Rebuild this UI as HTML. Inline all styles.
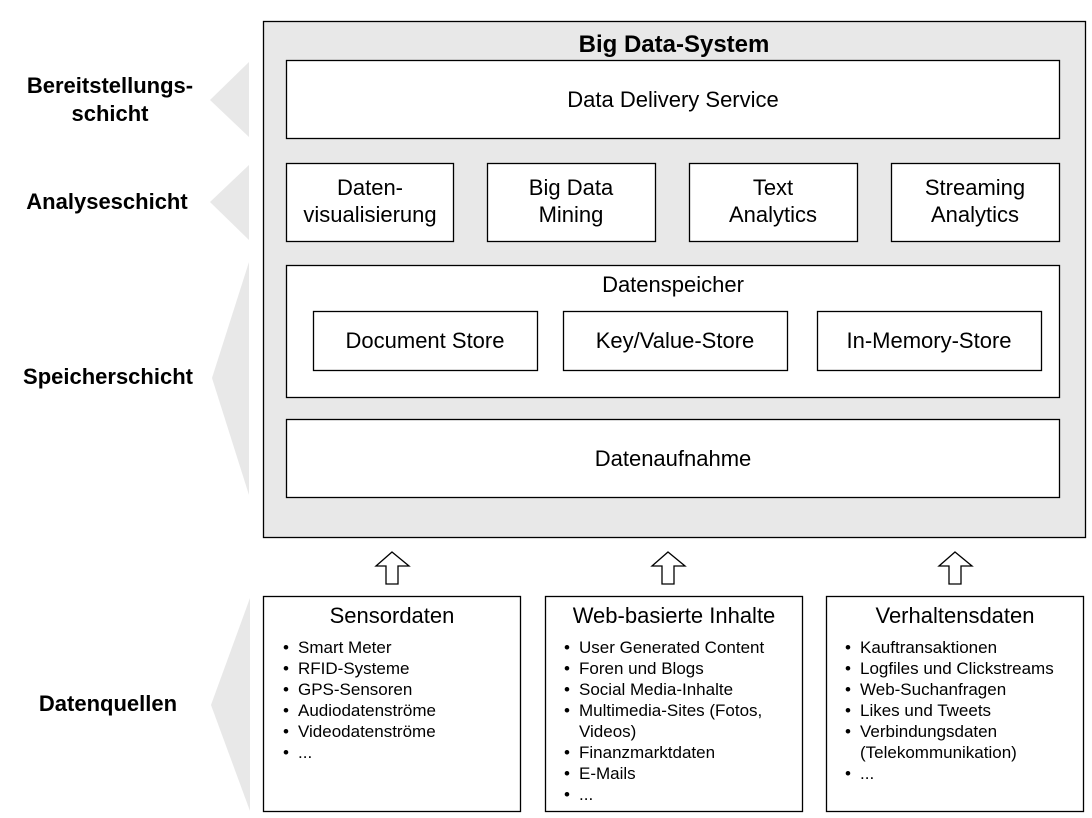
<!DOCTYPE html>
<html><head><meta charset="utf-8"><style>
html,body{margin:0;padding:0;background:#fff;}
svg{display:block;font-family:"Liberation Sans",Arial,sans-serif;}
</style></head><body>
<svg width="1092" height="818" viewBox="0 0 1092 818" xmlns="http://www.w3.org/2000/svg">
<g fill="#e8e8e8">
<polygon points="249,62 249,137 210,100"/>
<polygon points="249,165 249,240 210,202"/>
<polygon points="249,262 249,495 212,378"/>
<polygon points="250,598 250,811 211,705"/>
</g>
<g font-weight="bold" font-size="22" text-anchor="middle" fill="#000">
<text x="110" y="93">Bereitstellungs-</text>
<text x="110" y="121">schicht</text>
<text x="107" y="209">Analyseschicht</text>
<text x="108" y="384">Speicherschicht</text>
<text x="108" y="711">Datenquellen</text>
</g>
<rect x="263.5" y="21.5" width="822" height="516" fill="#e8e8e8" stroke="#000" stroke-width="1.3"/>
<text x="674" y="52" font-weight="bold" font-size="24" text-anchor="middle">Big Data-System</text>
<g fill="#fff" stroke="#000" stroke-width="1.3">
<rect x="286.5" y="60.5" width="773" height="78"/>
<rect x="286.5" y="163.5" width="167" height="78"/>
<rect x="487.5" y="163.5" width="168" height="78"/>
<rect x="689.5" y="163.5" width="168" height="78"/>
<rect x="891.5" y="163.5" width="168" height="78"/>
<rect x="286.5" y="265.5" width="773" height="132"/>
<rect x="313.5" y="311.5" width="224" height="59"/>
<rect x="563.5" y="311.5" width="224" height="59"/>
<rect x="817.5" y="311.5" width="224" height="59"/>
<rect x="286.5" y="419.5" width="773" height="78"/>
<rect x="263.5" y="596.5" width="257" height="215"/>
<rect x="545.5" y="596.5" width="257" height="215"/>
<rect x="826.5" y="596.5" width="257" height="215"/>
<polygon points="392,552 409,566 398,566 398,584 386,584 386,566 376,566"/>
<polygon points="668,552 685,566 674,566 674,584 662,584 662,566 652,566"/>
<polygon points="955,552 972,566 961,566 961,584 949,584 949,566 939,566"/>
</g>
<g font-size="22" text-anchor="middle" fill="#000">
<text x="673" y="107">Data Delivery Service</text>
<text x="370" y="195">Daten-</text>
<text x="370" y="222">visualisierung</text>
<text x="571" y="195">Big Data</text>
<text x="571" y="222">Mining</text>
<text x="773" y="195">Text</text>
<text x="773" y="222">Analytics</text>
<text x="975" y="195">Streaming</text>
<text x="975" y="222">Analytics</text>
<text x="673" y="292">Datenspeicher</text>
<text x="425" y="348">Document Store</text>
<text x="675" y="348">Key/Value-Store</text>
<text x="929" y="348">In-Memory-Store</text>
<text x="673" y="466">Datenaufnahme</text>
<text x="392" y="623">Sensordaten</text>
<text x="674" y="623">Web-basierte Inhalte</text>
<text x="955" y="623">Verhaltensdaten</text>
</g>
<g font-size="17" fill="#000">
<text x="283" y="653">•</text><text x="298" y="653">Smart Meter</text>
<text x="283" y="674">•</text><text x="298" y="674">RFID-Systeme</text>
<text x="283" y="695">•</text><text x="298" y="695">GPS-Sensoren</text>
<text x="283" y="716">•</text><text x="298" y="716">Audiodatenströme</text>
<text x="283" y="737">•</text><text x="298" y="737">Videodatenströme</text>
<text x="283" y="758">•</text><text x="298" y="758">...</text>

<text x="564" y="653">•</text><text x="579" y="653">User Generated Content</text>
<text x="564" y="674">•</text><text x="579" y="674">Foren und Blogs</text>
<text x="564" y="695">•</text><text x="579" y="695">Social Media-Inhalte</text>
<text x="564" y="716">•</text><text x="579" y="716">Multimedia-Sites (Fotos,</text>
<text x="579" y="737">Videos)</text>
<text x="564" y="758">•</text><text x="579" y="758">Finanzmarktdaten</text>
<text x="564" y="779">•</text><text x="579" y="779">E-Mails</text>
<text x="564" y="800">•</text><text x="579" y="800">...</text>

<text x="845" y="653">•</text><text x="860" y="653">Kauftransaktionen</text>
<text x="845" y="674">•</text><text x="860" y="674">Logfiles und Clickstreams</text>
<text x="845" y="695">•</text><text x="860" y="695">Web-Suchanfragen</text>
<text x="845" y="716">•</text><text x="860" y="716">Likes und Tweets</text>
<text x="845" y="737">•</text><text x="860" y="737">Verbindungsdaten</text>
<text x="860" y="758">(Telekommunikation)</text>
<text x="845" y="779">•</text><text x="860" y="779">...</text>
</g>
</svg>
</body></html>
